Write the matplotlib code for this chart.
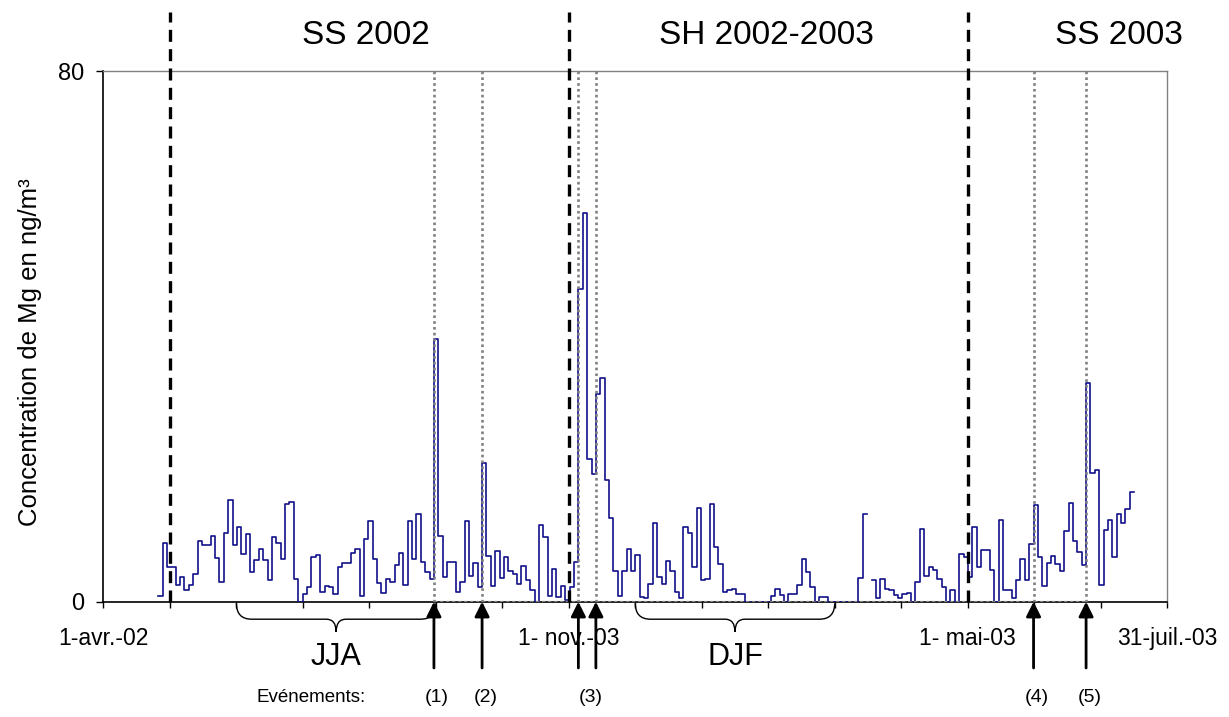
import numpy as np
import matplotlib
matplotlib.use("Agg")
import matplotlib.pyplot as plt
from matplotlib.path import Path
from matplotlib.patches import PathPatch
from matplotlib.transforms import blended_transform_factory

plt.rcParams['font.family'] = ['Liberation Sans', 'DejaVu Sans']

# ------------------------------------------------------------
# data : Mg concentration (ng/m3), one value every 2 days
# starting 25 days after 1-avr.-02
# ------------------------------------------------------------
START_DAY = 25
STEP_DAYS = 2
mg = [
    0.9, 8.8, 5.2, 5.2, 2.5, 3.8, 1.7, 2.5, 4.2, 9.2,
    8.5, 8.5, 9.9, 6.6, 2.9, 10.3, 15.4, 8.5, 11.3, 7.2,
    10.2, 4.5, 6.3, 7.9, 6.3, 3.2, 9.7, 8.8, 6.5, 14.8,
    15.0, 3.5, 0.0, 1.2, 2.2, 6.7, 7.1, 1.5, 2.4, 2.2,
    1.2, 5.3, 5.9, 5.9, 7.4, 7.9, 0.8, 9.5, 12.2, 6.4,
    2.8, 1.3, 3.4, 2.9, 5.5, 7.3, 2.5, 12.2, 6.5, 13.2,
    6.0, 4.5, 3.5, 39.6, 9.9, 3.7, 6.0, 6.0, 1.4, 2.9,
    12.2, 3.9, 5.9, 2.2, 21.0, 6.9, 2.3, 7.6, 3.6, 6.7,
    4.7, 4.2, 2.6, 5.4, 3.3, 1.7, 0.0, 11.5, 9.8, 0.9,
    4.9, 0.75, 2.3, 0.2, 2.2, 6.0, 47.2, 58.6, 21.6, 19.2,
    31.4, 33.8, 18.4, 12.7, 4.7, 0.9, 4.7, 7.9, 4.6, 7.1,
    0.75, 0.6, 2.6, 11.9, 3.7, 2.6, 6.2, 4.7, 1.4, 0.5,
    11.3, 10.3, 5.2, 14.2, 3.2, 3.4, 14.8, 8.3, 5.7, 1.5,
    1.7, 1.9, 1.2, 1.2, 0.0, 0.0, 0.0, 0.0, 0.0, 0.0,
    0.9, 1.9, 1.0, 0.0, 1.2, 1.2, 2.5, 6.5, 4.5, 2.2,
    0.0, 0.75, 0.75, 0.0, 0.0, 0.0, 0.0, 0.0, 0.0, 0.0,
    3.6, 13.2, np.nan, 3.2, 0.6, 3.4, 1.9, 1.7, 1.05, 0.6,
    1.2, 1.3, 0.0, 2.9, 10.9, 3.9, 5.2, 4.8, 3.5, 2.2,
    0.0, 1.8, 0.0, 7.2, 6.8, 3.7, 11.3, 5.3, 7.8, 7.8,
    4.8, 0.0, 12.3, 1.8, 1.8, 0.6, 3.2, 6.4, 3.2, 8.7,
    14.6, 6.7, 2.4, 5.8, 6.9, 5.7, 4.7, 10.7, 14.9, 9.2,
    7.5, 5.6, 33.0, 19.4, 19.9, 2.5, 10.8, 12.3, 6.7, 13.2,
    11.8, 14.0, 16.6,
]

# events (index in the series), and how they are labelled
event_idx = [63, 74, 96, 100, 200, 212]
event_labels = ["(1)", "(2)", "(3)", "(4)", "(5)"]
event_groups = [[63], [74], [96, 100], [200], [212]]

# x axis : 16 months, equally spaced ticks
N_DAYS = 486
N_MONTHS = 16
tick_labels = ["1-avr.-02", "", "", "", "", "", "", "1- nov.-03", "", "", "", "", "",
               "1- mai-03", "", "", "31-juil.-03"]
season_bounds = [1, 7, 13]          # month index of the dashed separators
season_names = ["SS 2002", "SH 2002-2003", "SS 2003"]
season_x = [120, 303, 464]          # title positions (days)
brace_months = [(2, 5), (8, 11)]
brace_names = ["JJA", "DJF"]
YMAX = 80

# ------------------------------------------------------------
mg = np.array(mg, dtype=float)
days = START_DAY + STEP_DAYS * np.arange(len(mg) + 1)
month_w = N_DAYS / N_MONTHS

fig = plt.figure(figsize=(12.29, 7.17), dpi=100)
ax = fig.add_axes([0.0842, 0.1608, 0.8654, 0.7395])
ax.set_xlim(0, N_DAYS)
ax.set_ylim(0, YMAX)

# main series
ax.step(days, np.append(mg, mg[-1]), where='post', color='#10108a', lw=1.2, zorder=3)

# event markers (grey dotted)
ev_days = days[event_idx]
ax.vlines(ev_days, 0, YMAX, colors='#808080', linestyles=(0, (1, 1.2)), lw=1.9, zorder=4)
ax.hlines(0, ev_days[0], ev_days[-1], colors='#808080', linestyles=(0, (1.5, 1.2)),
          lw=1.6, zorder=4)

# season separators
for m in season_bounds:
    ax.plot([m * month_w] * 2, [0, 89], color='black', lw=2.4,
            dashes=(3.6, 2.2), clip_on=False, zorder=5)

# spines / ticks
for s in ['top', 'right']:
    ax.spines[s].set_color('#808080')
    ax.spines[s].set_linewidth(1.0)
for s in ['left', 'bottom']:
    ax.spines[s].set_linewidth(1.2)
ax.set_yticks([0, YMAX])
ax.set_yticklabels(["0", "80"], fontsize=17)
ax.set_xticks(np.arange(N_MONTHS + 1) * month_w)
ax.set_xticklabels(tick_labels, fontsize=16.5)
ax.tick_params(axis='x', direction='out', length=4, width=1, pad=14)
ax.tick_params(axis='y', direction='out', length=5, width=1, pad=9)

fig.text(30 / 1229, 1 - 352 / 717, "Concentration de Mg en ng/m³", rotation=90,
         ha='center', va='center', fontsize=18.5)

# season titles
for xc, name in zip(season_x, season_names):
    ax.text(xc, 85.5, name, ha='center', va='center', fontsize=24, clip_on=False)

# curly braces under the axis
trans = blended_transform_factory(ax.transData, ax.transAxes)


def brace(x0, x1, r=7.0, rc=4.5, yt=-0.003, ym=-0.033, yp=-0.057):
    xc = (x0 + x1) / 2
    verts = [(x0, yt), (x0, ym), (x0 + r, ym),
             (xc - rc, ym), (xc, ym), (xc, yp),
             (xc, ym), (xc + rc, ym),
             (x1 - r, ym), (x1, ym), (x1, yt)]
    codes = [Path.MOVETO, Path.CURVE3, Path.CURVE3,
             Path.LINETO, Path.CURVE3, Path.CURVE3,
             Path.CURVE3, Path.CURVE3,
             Path.LINETO, Path.CURVE3, Path.CURVE3]
    ax.add_patch(PathPatch(Path(verts, codes), fill=False, lw=1.0, ec='black',
                           transform=trans, clip_on=False))
    return xc


for (m0, m1), name in zip(brace_months, brace_names):
    xc = brace(m0 * month_w, m1 * month_w)
    ax.text(xc, -0.105, name, transform=trans, ha='center', va='center',
            fontsize=22, clip_on=False)

# event arrows and labels
for d in ev_days:
    ax.annotate('', xy=(d, 0), xytext=(d, -10.0), annotation_clip=False,
                arrowprops=dict(arrowstyle='-|>', color='black', lw=2.0,
                                mutation_scale=22, shrinkA=0, shrinkB=0))
for lab, grp in zip(event_labels, event_groups):
    xc = np.mean(days[grp]) + 1.5
    ax.text(xc, -14.4, lab, ha='center', va='center', fontsize=14, clip_on=False)
ax.text(95, -14.4, "Evénements:", ha='center', va='center', fontsize=13.5, clip_on=False)

fig.savefig("out.png", dpi=100)
